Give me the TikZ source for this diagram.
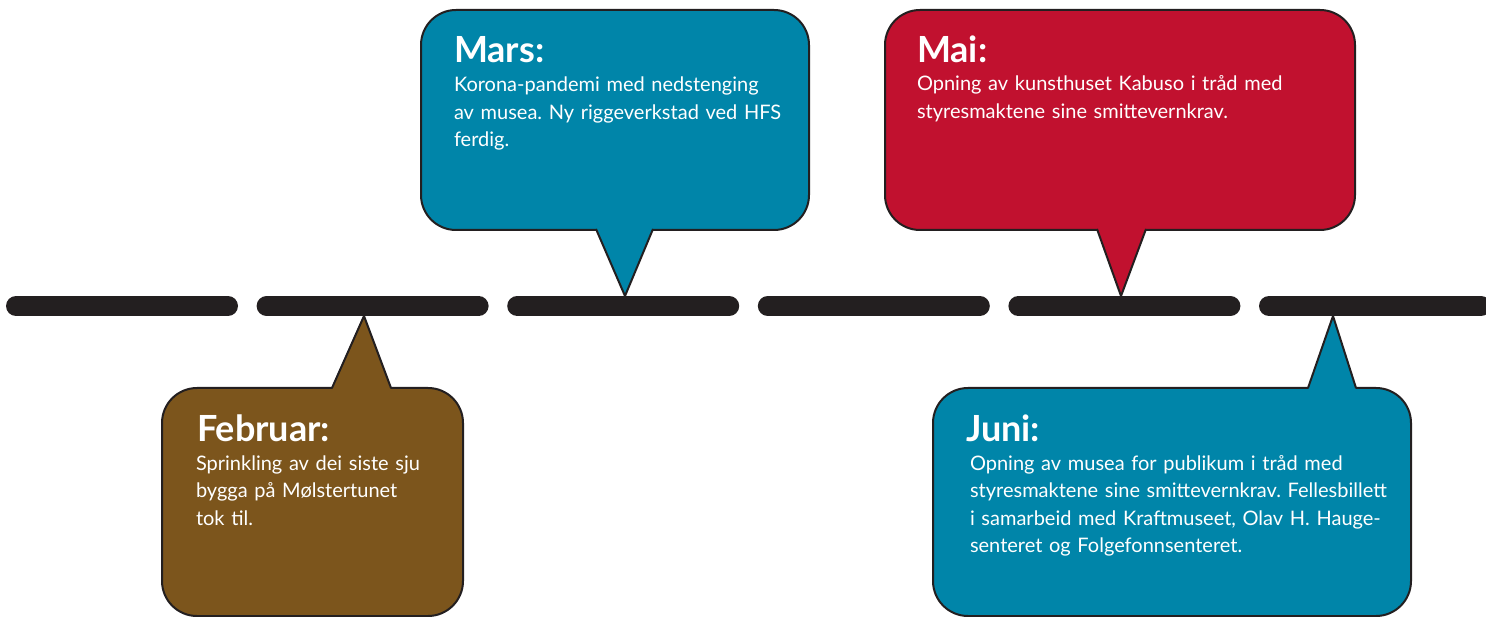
\documentclass[tikz,border=0pt]{standalone}
\usepackage{fontspec}
\setmainfont{Lato}
\usetikzlibrary{positioning}
\definecolor{havblaa}{HTML}{0085A9}
\definecolor{raud}{HTML}{C1112F}
\definecolor{brun}{HTML}{7C551C}
\definecolor{strek}{HTML}{231F20}
\frenchspacing
\begin{document}
\begin{tikzpicture}[x=1pt,y=-1pt,line width=2pt,
		bubble/.style={draw=strek,rounded corners=35pt,anchor=north west,inner sep=0pt},
		month/.style={text=white,font=\fontsize{36}{36}\selectfont\bfseries,anchor=base west,inner sep=0pt},
		note/.style={text=white,font=\fontsize{20}{27.5}\selectfont,anchor=base west,inner sep=0pt,align=left,text width=440pt},
		stripe/.style={line width=20pt,line cap=round,draw=strek}]
				\useasboundingbox (0,0) rectangle (1486,617);
				\clip (0,0) rectangle (1486,617);
				% bobler
				\node(mars)  [bubble,fill=havblaa,minimum width=388pt,minimum height=220pt] at (420,9) {};
				\node(mai)   [bubble,fill=raud,minimum width=470pt,minimum height=220pt] at (884,9) {};
				\node(feb)   [bubble,fill=brun,minimum width=301pt,minimum height=228pt] at (161,387) {};
				\node(juni)  [bubble,fill=havblaa,minimum width=478pt,minimum height=228pt] at (932,387) {};
				% tuppar mot tidslinja
				\coordinate(marstip) at (625,296);
				\coordinate(maitip)  at (1121,296);
				\coordinate(febtip)  at (364,316);
				\coordinate(junitip) at (1333,316);
			 	\fill[havblaa] (596,227) -- (marstip) -- (653,227) -- cycle;
			 	\draw[strek] (596,229) -- (marstip) -- (653,229);
			 	\fill[raud] (1097,227) -- (maitip) -- (1146,227) -- cycle;
			 	\draw[strek] (1097,229) -- (maitip) -- (1146,229);
			 	\fill[brun] (332,390) -- (febtip) -- (391,390) -- cycle;
			 	\draw[strek] (332,388) -- (febtip) -- (391,388);
			 	\fill[havblaa] (1308,390) -- (junitip) -- (1356,390) -- cycle;
			 	\draw[strek] (1308,388) -- (junitip) -- (1356,388);
				% tekst
				\node(marsh) [month] at ([shift={(33,54)}]mars.north west) {Mars:};
				\node(marst) [note] at (453,92) {Korona-pandemi med nedstenging\\av musea. Ny riggeverkstad ved HFS\\ferdig.};
				\node(maih)  [month] at ([shift={(32,54)}]mai.north west) {Mai:};
				\node(mait)  [note] at (916,91) {Opning av kunsthuset Kabuso i tråd med\\styresmaktene sine smittevernkrav.};
				\node(febh)  [month] at ([shift={(35,55)}]feb.north west) {Februar:};
				\node(febt)  [note] at (195,470) {Sprinkling av dei siste sju\\bygga på Mølstertunet\\tok til.};
				\node(junih) [month] at ([shift={(33,55)}]juni.north west) {Juni:};
				\node(junit) [note] at (969,470) {Opning av musea for publikum i tråd med\\styresmaktene sine smittevernkrav. Fellesbillett\\i samarbeid med Kraftmuseet, Olav H. Hauge-\\senteret og Folgefonnsenteret.};
				% tidslinje
				\foreach \i in {0,...,5}
					\draw[stripe] ({16+250.6*\i},306) -- ({228+250.6*\i},306);
			\end{tikzpicture}
\end{document}
